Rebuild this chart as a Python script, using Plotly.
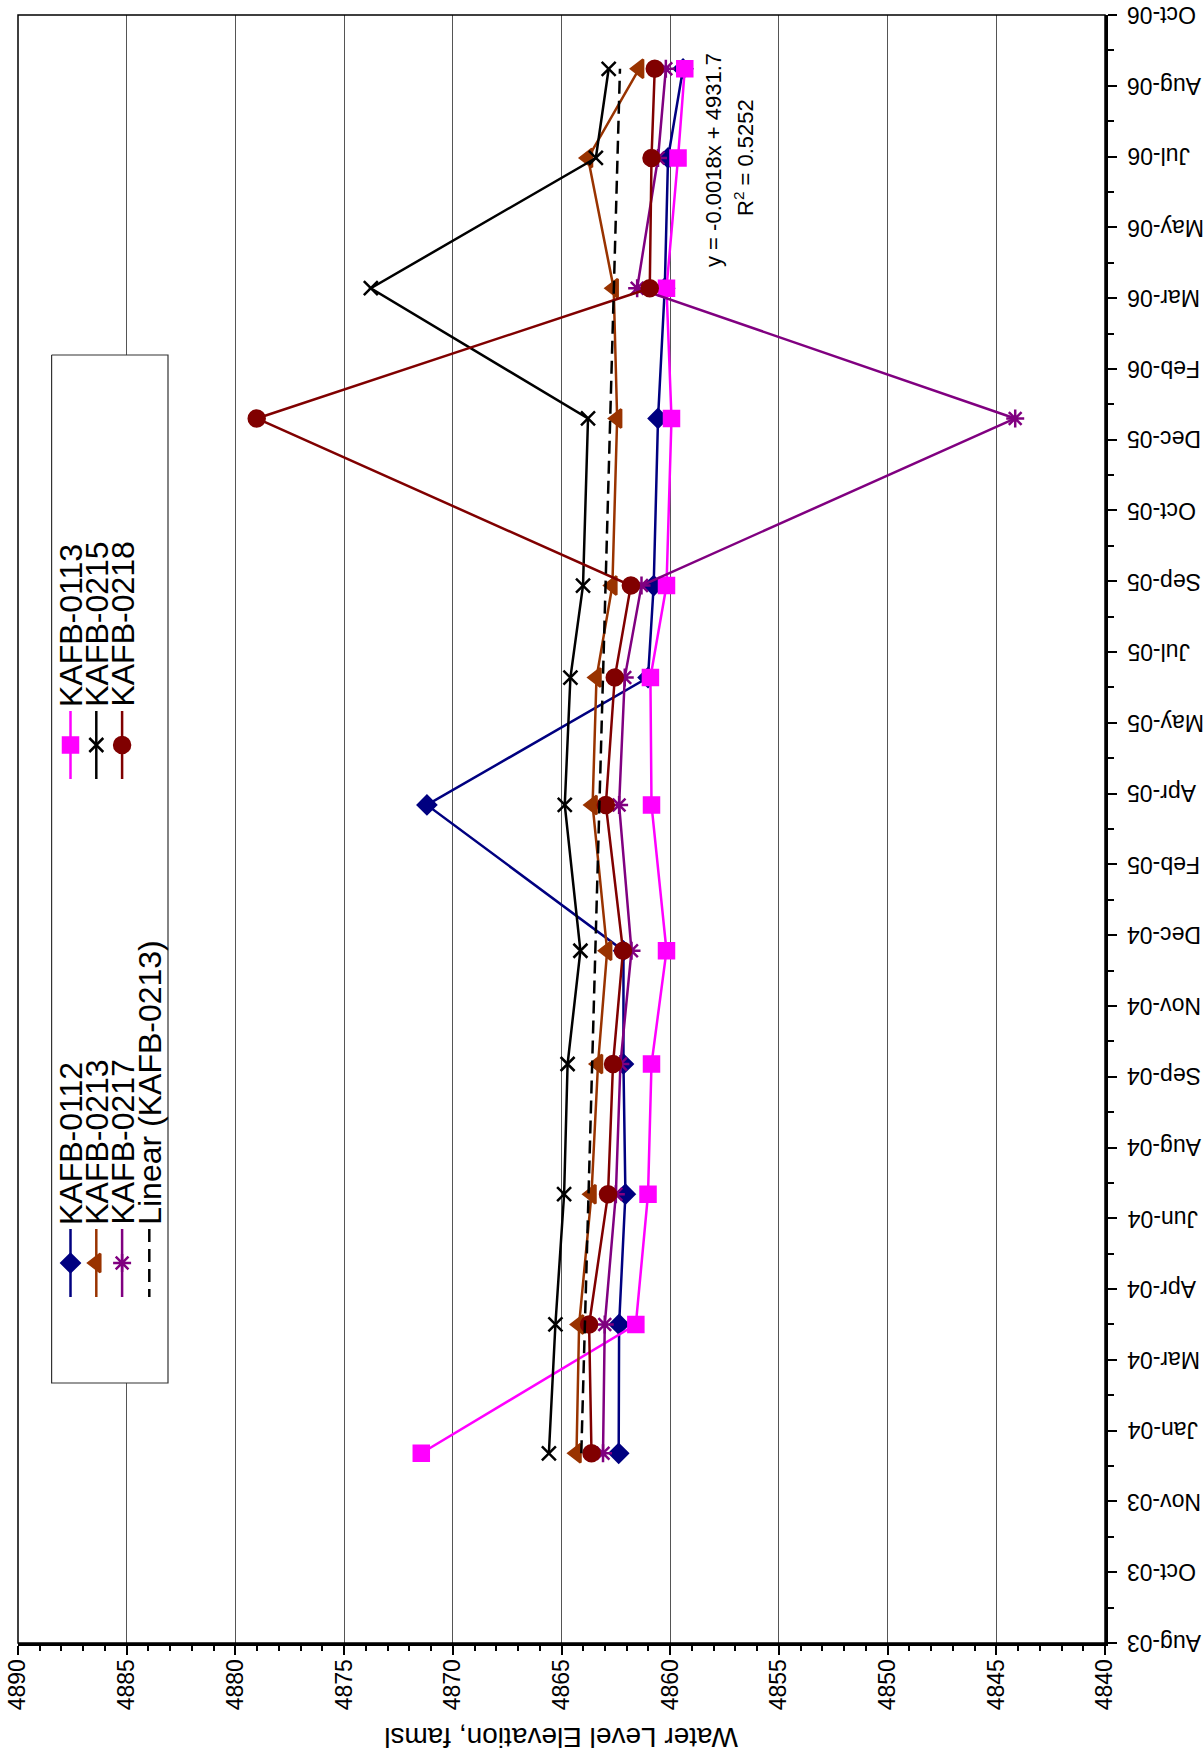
import numpy as np
import pandas as pd
import plotly.graph_objects as go

# ---------------- data ----------------
sample_dates = ["2003-12-29", "2004-03-29", "2004-06-29", "2004-09-29", "2004-12-18", "2005-03-31",
                "2005-06-29", "2005-09-02", "2005-12-29", "2006-03-31", "2006-07-01", "2006-09-02"]
kafb_0112 = [4862.37, 4862.35, 4862.06, 4862.15, 4862.15, 4871.19, 4861.02, 4860.76, 4860.56, 4860.25, 4860.10, 4859.41]
kafb_0113 = [4871.45, 4861.58, 4861.02, 4860.86, 4860.17, 4860.86, 4860.91, 4860.17, 4859.94, 4860.17, 4859.64, 4859.33]
kafb_0213 = [4864.31, 4864.19, 4863.62, 4863.32, 4862.90, 4863.57, 4863.39, 4862.66, 4862.44, 4862.60, 4863.78, 4861.43]
kafb_0215 = [4865.58, 4865.28, 4864.88, 4864.72, 4864.13, 4864.85, 4864.59, 4864.01, 4863.78, 4873.77, 4863.42, 4862.83]
kafb_0217 = [4863.09, 4863.01, 4862.50, 4862.29, 4861.78, 4862.35, 4862.09, 4861.32, 4844.13, 4861.52, 4860.56, 4860.20]
kafb_0218 = [4863.62, 4863.73, 4862.86, 4862.63, 4862.17, 4862.96, 4862.55, 4861.81, 4879.02, 4860.94, 4860.86, 4860.71]

date_tick_labels = ["Aug-03", "Oct-03", "Nov-03", "Jan-04", "Mar-04", "Apr-04", "Jun-04", "Aug-04",
                    "Sep-04", "Nov-04", "Dec-04", "Feb-05", "Apr-05", "May-05", "Jul-05", "Sep-05",
                    "Oct-05", "Dec-05", "Feb-06", "Mar-06", "May-06", "Jul-06", "Aug-06", "Oct-06"]
axis_start = "2003-08-17"
axis_step_days = 50
trend_label = "y = -0.0018x + 4931.7"
r2_label = "R<sup>2</sup> = 0.5252"

# ---------------- derived ----------------
dates = pd.to_datetime(sample_dates)
date_ticks = pd.date_range(axis_start, periods=len(date_tick_labels), freq=f"{axis_step_days}D")
minor_ticks = date_ticks[:-1] + pd.Timedelta(days=axis_step_days // 2)
axis_end = date_ticks[-1]

serial = np.array((dates - pd.Timestamp("1899-12-30")).days, dtype=float)
coef = np.polyfit(serial, np.array(kafb_0213), 1)
trend_x = np.polyval(coef, serial[[0, -1]])
trend_y = dates[[0, -1]]

FONT = "Liberation Sans, Arial, sans-serif"

series = [
    ("KAFB-0112", kafb_0112, "#000080", "diamond", 14),
    ("KAFB-0113", kafb_0113, "#FF00FF", "square", 15),
    ("KAFB-0213", kafb_0213, "#993300", "triangle-left", 16),
    ("KAFB-0215", kafb_0215, "#000000", "x-thin-open", 14),
    ("KAFB-0217", kafb_0217, "#800080", "asterisk-open", 15),
    ("KAFB-0218", kafb_0218, "#800000", "circle", 16),
]

L, R, T, B = 18, 1105, 15, 1643
PW, PH = R - L, B - T

fig = go.Figure()
for name, vals, color, sym, sz in series:
    fig.add_trace(go.Scatter(
        x=vals, y=dates, mode="lines+markers", name=name,
        line=dict(color=color, width=2.5),
        marker=dict(symbol=sym, size=sz, color=color, line=dict(color=color, width=2.5)),
        showlegend=False))

fig.add_trace(go.Scatter(x=trend_x, y=trend_y, mode="lines", name="Linear (KAFB-0213)",
                         line=dict(color="black", width=2.5, dash="13px,7px"), showlegend=False))

# ---------------- legend drawn rotated (pixel overlay axes) ----------------
box_x = [51.6, 168, 168, 51.6, 51.6]
box_y = [355, 355, 1383, 1383, 355]
fig.add_trace(go.Scatter(x=box_x, y=box_y, mode="lines", fill="toself", fillcolor="white",
                         line=dict(color="#333333", width=1.2), xaxis="x2", yaxis="y2",
                         showlegend=False, hoverinfo="skip"))

col_x = [70.5, 96.3, 122.1, 149.3]
leg_entries = [  # (series index, column x, group)
    (0, col_x[0], 1), (2, col_x[1], 1), (4, col_x[2], 1),
    (1, col_x[0], 2), (3, col_x[1], 2), (5, col_x[2], 2),
]
group_pos = {1: (1229, 1297, 1227), 2: (711, 779, 709)}
annotations = []
for idx, cx, g in leg_entries:
    name, vals, color, sym, sz = series[idx]
    y0, y1, ytxt = group_pos[g]
    fig.add_trace(go.Scatter(x=[cx, cx], y=[y0, y1], mode="lines", xaxis="x2", yaxis="y2",
                             line=dict(color=color, width=2.5), showlegend=False, hoverinfo="skip"))
    fig.add_trace(go.Scatter(x=[cx], y=[(y0 + y1) / 2], mode="markers", xaxis="x2", yaxis="y2",
                             marker=dict(symbol=sym, size=sz, color=color, line=dict(color=color, width=2.5)),
                             showlegend=False, hoverinfo="skip"))
    annotations.append(dict(x=cx, y=ytxt, xref="x2", yref="y2", text=name, textangle=-90,
                            showarrow=False, xanchor="center", yanchor="bottom",
                            font=dict(family=FONT, size=32, color="black")))
y0, y1, ytxt = group_pos[1]
fig.add_trace(go.Scatter(x=[col_x[3], col_x[3]], y=[y0, y1], mode="lines", xaxis="x2", yaxis="y2",
                         line=dict(color="black", width=2.5, dash="13px,7px"), showlegend=False,
                         hoverinfo="skip"))
annotations.append(dict(x=col_x[3], y=ytxt, xref="x2", yref="y2", text="Linear (KAFB-0213)",
                        textangle=-90, showarrow=False, xanchor="center", yanchor="bottom",
                        font=dict(family=FONT, size=32, color="black")))

# trendline equation
annotations.append(dict(x=713, y=160, xref="x2", yref="y2", text=trend_label, textangle=-90,
                        showarrow=False, font=dict(family=FONT, size=22, color="black")))
annotations.append(dict(x=744, y=158, xref="x2", yref="y2", text=r2_label, textangle=-90,
                        showarrow=False, font=dict(family=FONT, size=22, color="black")))
# axis title (upside down)
annotations.append(dict(x=0.5, y=(B - 1738) / PH, xref="paper", yref="paper",
                        xanchor="center", yanchor="middle",
                        text="Water Level Elevation, famsl", textangle=180, showarrow=False,
                        font=dict(family=FONT, size=28, color="black")))
# date tick labels (upside down, left-aligned next to the right axis)
for tv, lab in zip(date_ticks, date_tick_labels):
    annotations.append(dict(x=1 + 20 / PW, y=tv, xref="paper", yref="y", text=lab,
                            textangle=180, showarrow=False, xanchor="left", yanchor="middle",
                            font=dict(family=FONT, size=23, color="black")))

shapes = [
    dict(type="rect", xref="paper", yref="paper", x0=0, x1=1, y0=0, y1=1,
         line=dict(color="black", width=1.5), layer="above"),
]

fig.update_layout(
    width=1204, height=1758,
    margin=dict(l=L, r=1204 - R, t=T, b=1758 - B, autoexpand=False),
    paper_bgcolor="white", plot_bgcolor="white",
    font=dict(family=FONT, color="black"),
    showlegend=False,
    annotations=annotations,
    shapes=shapes,
    xaxis=dict(range=[4890, 4840], tick0=4840, dtick=5, tickangle=-90, automargin=False,
               ticks="outside", ticklen=9, tickwidth=2, tickcolor="black",
               showline=True, linewidth=3, linecolor="black",
               showgrid=True, gridcolor="#555555", gridwidth=1, zeroline=False,
               ticklabelstandoff=-5,
               tickfont=dict(family=FONT, size=23, color="black"),
               minor=dict(dtick=1, ticks="outside", ticklen=5, tickwidth=1.5, tickcolor="black", showgrid=False)),
    yaxis=dict(type="date", side="right", range=[date_ticks[0], axis_end], automargin=False,
               tickmode="array", tickvals=list(date_ticks), ticktext=date_tick_labels,
               showticklabels=False, ticks="outside", ticklen=9, tickwidth=2, tickcolor="black",
               showline=True, linewidth=3, linecolor="black", showgrid=False, zeroline=False,
               minor=dict(tickmode="array", tickvals=list(minor_ticks), ticks="outside", ticklen=6,
                          tickwidth=1.5, tickcolor="black", showgrid=False)),
    xaxis2=dict(overlaying="x", range=[L, R], visible=False, fixedrange=True, automargin=False),
    yaxis2=dict(overlaying="y", range=[B, T], visible=False, fixedrange=True, automargin=False),
)

fig.write_html("out.html", config={"displayModeBar": False},
               post_script="document.body.style.margin='0';document.body.style.overflow='hidden';")
